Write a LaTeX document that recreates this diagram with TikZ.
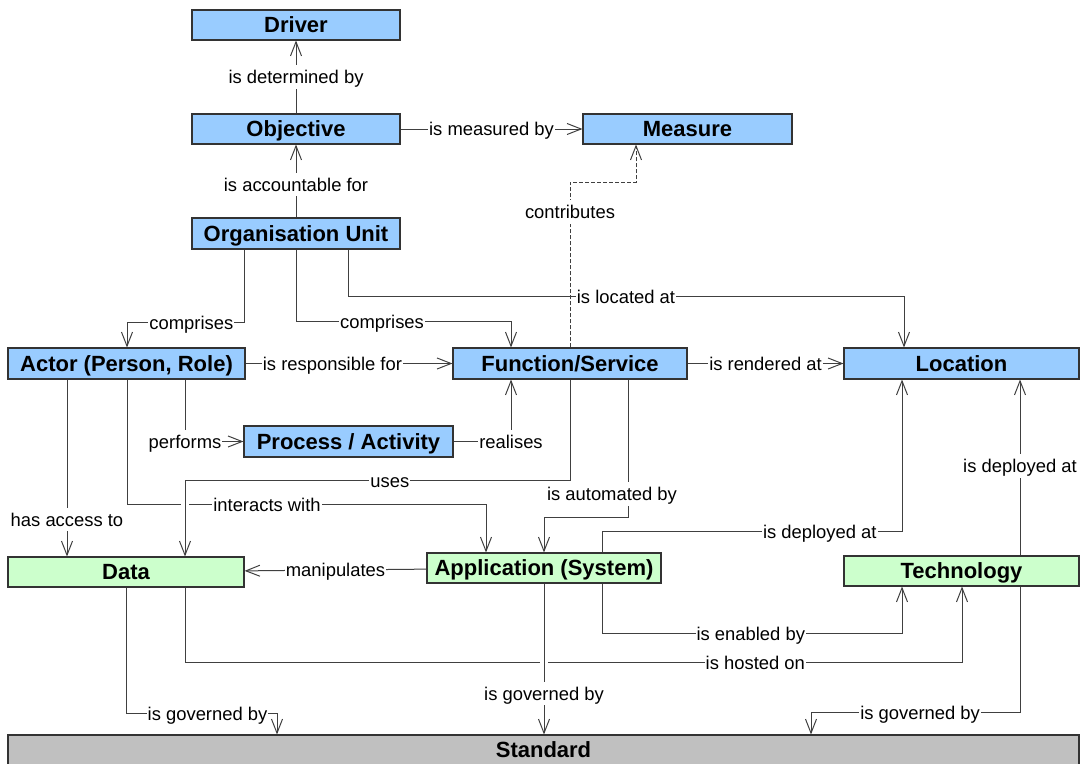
\documentclass[tikz,border=0pt]{standalone}
\usepackage{fontspec}
\setmainfont{Liberation Sans}
\usetikzlibrary{arrows.meta}
\definecolor{boxblue}{HTML}{99CCFF}
\definecolor{boxgreen}{HTML}{CCFFCC}
\definecolor{boxgrey}{HTML}{C0C0C0}
\definecolor{linegrey}{HTML}{404040}
\begin{document}
\begin{tikzpicture}[x=1pt,y=-1pt,
  entity/.style={draw=black!80, line width=1.1pt, minimum height=30pt,
    inner sep=0pt, text height=15.8pt, text depth=0pt,
    font=\fontsize{22}{26}\selectfont\bfseries},
  blue/.style={entity, fill=boxblue},
  green/.style={entity, fill=boxgreen},
  grey/.style={entity, fill=boxgrey},
  rel/.style={draw=linegrey, line width=1pt, -{Straight Barb[length=14pt,width=11pt]}},
  lbl/.style={fill=white, inner sep=1pt, text=black, text height=17.5pt, text depth=4pt,
    font=\fontsize{18.4}{22}\selectfont},
  ]
\useasboundingbox (0,0) rectangle (1083,763);

% entities
\node[blue, minimum width=208pt] (drv)  at (296,25)    {Driver};
\node[blue, minimum width=208pt] (obj)  at (296,129)   {Objective};
\node[blue, minimum width=209pt] (meas) at (687.5,129) {Measure};
\node[blue, minimum width=208pt, minimum height=31pt] (org) at (296,233.5) {Organisation Unit};
\node[blue, minimum width=237pt, minimum height=31pt] (act) at (126.5,363.5) {Actor (Person, Role)};
\node[blue, minimum width=234pt, minimum height=31pt] (fun) at (570,363.5) {Function/Service};
\node[blue, minimum width=235pt, minimum height=31pt] (loc) at (961.5,363.5) {Location};
\node[blue, minimum width=209pt, minimum height=31pt] (proc) at (348.5,441.5) {Process / Activity};
\node[green, minimum width=236pt] (data) at (126,572)   {Data};
\node[green, minimum width=234pt] (app)  at (544,568)   {Application (System)};
\node[green, minimum width=235pt] (tech) at (961.5,571) {Technology};
\node[grey, minimum width=1071pt] (std)  at (543.5,750) {Standard};

% relations
\draw[rel] (obj) -- node[lbl]{is determined by} (drv);
\draw[rel] (obj) -- node[lbl]{is measured by} (meas);
\draw[rel] (org) -- node[lbl, pos=0.45]{is accountable for} (obj);
\draw[rel, dash pattern=on 4pt off 2pt] (fun.north) -- node[lbl, pos=0.82]{contributes} ++(0,-165)
  -| ([xshift=-51.5pt]meas.south);

\draw[rel] ([xshift=-52pt]org.south) -- ++(0,73) -| node[lbl, pos=0.225]{comprises} ([xshift=0.5pt]act.north);
\draw[rel] (org.south) -- ++(0,72) -| node[lbl, pos=0.2]{comprises} ([xshift=-59pt]fun.north);
\draw[rel] ([xshift=52pt]org.south) -- ++(0,47) -| node[lbl, pos=0.25]{is located at} ([xshift=-57.5pt]loc.north);

\draw[rel] (act) -- node[lbl, pos=0.42]{is responsible for} (fun);
\draw[rel] (fun) -- node[lbl]{is rendered at} (loc);
\draw[rel] ([xshift=58.5pt]act.south) |- node[lbl, pos=0.5]{performs} (proc.west);
\draw[rel] (proc.east) -| node[lbl, pos=0.5]{realises} ([xshift=-59pt]fun.south);

\draw[rel] ([xshift=0.5pt]act.south) -- ++(0,125) -| node[lbl, pos=0.195]{interacts with} ([xshift=-58pt]app.north);
% line jump where the "uses" connector crosses
\draw[white, line width=8pt] ([xshift=59pt]data.north) ++(0,-48) -- ++(0,-10);
\draw[rel] (fun.south) -- ++(0,101) -| node[lbl, pos=0.234]{uses} ([xshift=59pt]data.north);
\draw[rel] ([xshift=-59.5pt]act.south) -- node[lbl, pos=0.79]{has access to} ([xshift=-59pt]data.north);

\draw[rel] ([xshift=58pt]fun.south) -- node[lbl, pos=0.83, xshift=-16pt]{is automated by} ++(0,138) -| (app.north);
\draw[rel] (app) -- node[lbl]{manipulates} (data);
\draw[rel] ([xshift=58pt]app.north) -- ++(0,-21) -| node[lbl, pos=0.363]{is deployed at} ([xshift=-59.5pt]loc.south);
\draw[rel] ([xshift=58pt]app.south) -- ++(0,50) -| node[lbl, pos=0.248]{is enabled by} ([xshift=-59.5pt]tech.south);
\draw[rel] ([xshift=58.5pt]tech.north) -- node[lbl, pos=0.51]{is deployed at} ([xshift=58.5pt]loc.south);

\draw[rel] ([xshift=59pt]data.south) -- ++(0,75) -| node[lbl, pos=0.367]{is hosted on} ([xshift=0.5pt]tech.south);
% line jump where the governance connector crosses
\draw[white, line width=8pt] (app.south) ++(0,74) -- ++(0,10);
\draw[rel] (app.south) -- node[lbl, pos=0.73]{is governed by} (app.south |- std.north);
\draw[rel] (data.south) -- ++(0,126) -| node[lbl, pos=0.27]{is governed by} ([xshift=-266.5pt]std.north);
\draw[rel] ([xshift=58.5pt]tech.south) -- ++(0,126) -| node[lbl, pos=0.239]{is governed by} ([xshift=267.5pt]std.north);
\end{tikzpicture}
\end{document}
